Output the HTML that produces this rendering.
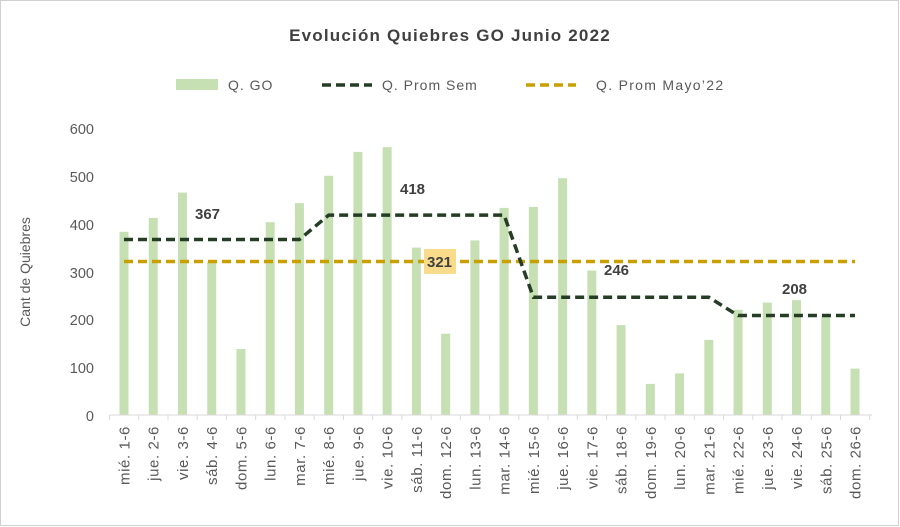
<!DOCTYPE html>
<html><head><style>
body{margin:0;background:#fff}
svg{display:block;font-family:"Liberation Sans",sans-serif}
</style></head><body>
<svg width="900" height="527" viewBox="0 0 900 527" xmlns="http://www.w3.org/2000/svg">
<rect x="0.5" y="0.5" width="898" height="525" fill="#fff" stroke="#d0d0d0"/>
<text x="450" y="41" text-anchor="middle" font-size="17" font-weight="bold" fill="#404040" letter-spacing="1.2">Evolución Quiebres GO Junio 2022</text>
<rect x="176" y="79" width="42" height="11" fill="#c6e0b4"/>
<text x="228" y="90" font-size="14" fill="#595959" letter-spacing="1">Q. GO</text>
<line x1="322" y1="85" x2="372" y2="85" stroke="#253d25" stroke-width="3.5" stroke-dasharray="9,5"/>
<text x="382" y="90" font-size="14" fill="#595959" letter-spacing="1">Q. Prom Sem</text>
<line x1="526" y1="85" x2="576" y2="85" stroke="#c9a000" stroke-width="3.5" stroke-dasharray="9,5"/>
<text x="596" y="90" font-size="14" fill="#595959" letter-spacing="1.3">Q. Prom Mayo’22</text>
<g font-size="14.5" fill="#595959" text-anchor="end">
<text x="94" y="134">600</text><text x="94" y="182">500</text><text x="94" y="230">400</text>
<text x="94" y="278">300</text><text x="94" y="325">200</text><text x="94" y="373">100</text><text x="94" y="421">0</text>
</g>
<text transform="translate(30,272) rotate(-90)" text-anchor="middle" font-size="14" fill="#595959">Cant de Quiebres</text>
<g fill="#c6e0b4">
<rect x="119.5" y="231.8" width="9" height="183.2"/>
<rect x="148.74" y="217.9" width="9" height="197.1"/>
<rect x="177.98" y="192.6" width="9" height="222.4"/>
<rect x="207.22" y="261.9" width="9" height="153.1"/>
<rect x="236.46" y="349" width="9" height="66"/>
<rect x="265.7" y="222.2" width="9" height="192.8"/>
<rect x="294.94" y="203.1" width="9" height="211.9"/>
<rect x="324.18" y="175.8" width="9" height="239.2"/>
<rect x="353.42" y="151.9" width="9" height="263.1"/>
<rect x="382.66" y="147.2" width="9" height="267.8"/>
<rect x="411.9" y="247.6" width="9" height="167.4"/>
<rect x="441.14" y="333.7" width="9" height="81.3"/>
<rect x="470.38" y="240.4" width="9" height="174.6"/>
<rect x="499.62" y="207.9" width="9" height="207.1"/>
<rect x="528.86" y="206.9" width="9" height="208.1"/>
<rect x="558.1" y="178.2" width="9" height="236.8"/>
<rect x="587.34" y="270.6" width="9" height="144.4"/>
<rect x="616.58" y="325.1" width="9" height="89.9"/>
<rect x="645.82" y="383.9" width="9" height="31.1"/>
<rect x="675.06" y="373.4" width="9" height="41.6"/>
<rect x="704.3" y="339.9" width="9" height="75.1"/>
<rect x="733.54" y="309.8" width="9" height="105.2"/>
<rect x="762.78" y="302.6" width="9" height="112.4"/>
<rect x="792.02" y="300.2" width="9" height="114.8"/>
<rect x="821.26" y="316.9" width="9" height="98.1"/>
<rect x="850.5" y="368.6" width="9" height="46.4"/>
</g>
<line x1="110" y1="415" x2="872" y2="415" stroke="#d9d9d9"/>
<line x1="109" y1="417.5" x2="872" y2="417.5" stroke="#d9d9d9" stroke-width="5" stroke-dasharray="1 28.24"/>
<polyline fill="none" stroke="#c9a000" stroke-width="3.5" stroke-dasharray="9,5" points="124,261.5 855,261.5"/>
<polyline fill="none" stroke="#253d25" stroke-width="3.5" stroke-dasharray="9,5" points="124,239.5 299.44,239.5 328.68,215.1 504.12,215.1 533.36,297.3 708.8,297.3 738.04,315.5 855,315.5"/>
<g font-size="15" fill="#595959" text-anchor="end" letter-spacing="0.6">
<text transform="translate(129.5,426) rotate(-90)">mié. 1-6</text>
<text transform="translate(158.74,426) rotate(-90)">jue. 2-6</text>
<text transform="translate(187.98,426) rotate(-90)">vie. 3-6</text>
<text transform="translate(217.22,426) rotate(-90)">sáb. 4-6</text>
<text transform="translate(246.46,426) rotate(-90)">dom. 5-6</text>
<text transform="translate(275.7,426) rotate(-90)">lun. 6-6</text>
<text transform="translate(304.94,426) rotate(-90)">mar. 7-6</text>
<text transform="translate(334.18,426) rotate(-90)">mié. 8-6</text>
<text transform="translate(363.42,426) rotate(-90)">jue. 9-6</text>
<text transform="translate(392.66,426) rotate(-90)">vie. 10-6</text>
<text transform="translate(421.9,426) rotate(-90)">sáb. 11-6</text>
<text transform="translate(451.14,426) rotate(-90)">dom. 12-6</text>
<text transform="translate(480.38,426) rotate(-90)">lun. 13-6</text>
<text transform="translate(509.62,426) rotate(-90)">mar. 14-6</text>
<text transform="translate(538.86,426) rotate(-90)">mié. 15-6</text>
<text transform="translate(568.1,426) rotate(-90)">jue. 16-6</text>
<text transform="translate(597.34,426) rotate(-90)">vie. 17-6</text>
<text transform="translate(626.58,426) rotate(-90)">sáb. 18-6</text>
<text transform="translate(655.82,426) rotate(-90)">dom. 19-6</text>
<text transform="translate(685.06,426) rotate(-90)">lun. 20-6</text>
<text transform="translate(714.3,426) rotate(-90)">mar. 21-6</text>
<text transform="translate(743.54,426) rotate(-90)">mié. 22-6</text>
<text transform="translate(772.78,426) rotate(-90)">jue. 23-6</text>
<text transform="translate(802.02,426) rotate(-90)">vie. 24-6</text>
<text transform="translate(831.26,426) rotate(-90)">sáb. 25-6</text>
<text transform="translate(860.5,426) rotate(-90)">dom. 26-6</text>
</g>
<g font-size="15" font-weight="bold" fill="#404040">
<text x="195" y="219">367</text>
<text x="400" y="194">418</text>
<rect x="424" y="249" width="32" height="25" fill="#f8dc8c"/>
<text x="427" y="267">321</text>
<text x="604" y="275">246</text>
<text x="782" y="294">208</text>
</g>
</svg>
</body></html>
